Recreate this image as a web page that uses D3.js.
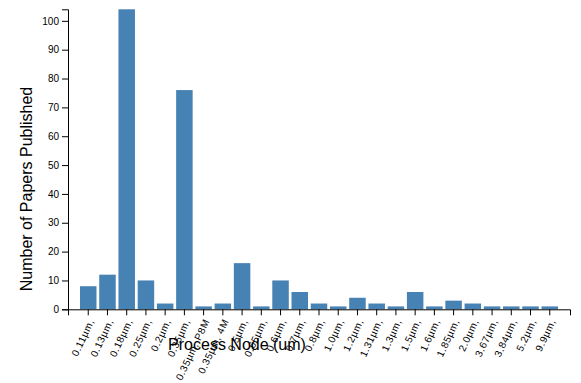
<!DOCTYPE html>
<html><head><meta charset="utf-8">
<script src="https://cdn.jsdelivr.net/npm/d3@7"></script>
<style>
body{margin:0;background:#fff;}
svg{font-family:"Liberation Sans",Arial,sans-serif;}
</style></head>
<body><svg id="c" width="581" height="383"></svg>
<script>
const categories = ["0.11µm,","0.13µm,","0.18µm,","0.25µm,","0.2µm,","0.35µm,","0.35µm, P8M","0.35µm, 4M","0.5µm,","0.65µm,","0.6µm,","0.7µm,","0.8µm,","1.0µm,","1.2µm,","1.31µm,","1.3µm,","1.5µm,","1.6µm,","1.85µm,","2.0µm,","3.67µm,","3.84µm,","5.2µm,","9.9µm,"];
const papers = [8,12,104,10,2,76,1,2,16,1,10,6,2,1,4,2,1,6,1,3,2,1,1,1,1];
const yTicks = [0,10,20,30,40,50,60,70,80,90,100];

const svg = d3.select("#c");
const mLeft = 68, mRight = 570, mTop = 9.3, mBottom = 309.3;
const x = d3.scaleBand().domain(categories).range([mLeft, mRight]).paddingInner(0.142).paddingOuter(0.624);
const y = d3.scaleLinear().domain([0, d3.max(papers)]).range([mBottom, mTop]);

svg.append("g").selectAll("rect").data(papers).join("rect")
  .attr("x", (d,i) => x(categories[i]))
  .attr("width", x.bandwidth())
  .attr("y", d => y(d))
  .attr("height", d => mBottom - y(d))
  .attr("fill", "steelblue");

const xa = svg.append("g").attr("transform", `translate(0,${mBottom})`)
  .call(d3.axisBottom(x));
xa.selectAll("text")
  .style("text-anchor","end")
  .attr("font-size", 10)
  .attr("letter-spacing", "0.6px")
  .attr("dx","-.8em").attr("dy",".15em")
  .attr("transform","rotate(-65)");

const ya = svg.append("g").attr("transform", `translate(${mLeft},0)`)
  .call(d3.axisLeft(y).tickValues(yTicks));
ya.selectAll("text").attr("font-size", 10).attr("fill","#000");
svg.selectAll(".domain").attr("stroke","#000");
svg.selectAll(".tick line").attr("stroke","#000");
svg.selectAll(".tick text").attr("font-family","'Liberation Sans',Arial,sans-serif").attr("fill","#000");

svg.append("text").attr("transform","rotate(-90)")
  .attr("x", -189).attr("y", 32)
  .attr("text-anchor","middle").attr("font-size", 16).attr("fill","#000")
  .text("Number of Papers Published");

svg.append("text").attr("x", 237).attr("y", 350)
  .attr("text-anchor","middle").attr("font-size", 16).attr("fill","#000")
  .text("Process Node (um)");
</script></body></html>
